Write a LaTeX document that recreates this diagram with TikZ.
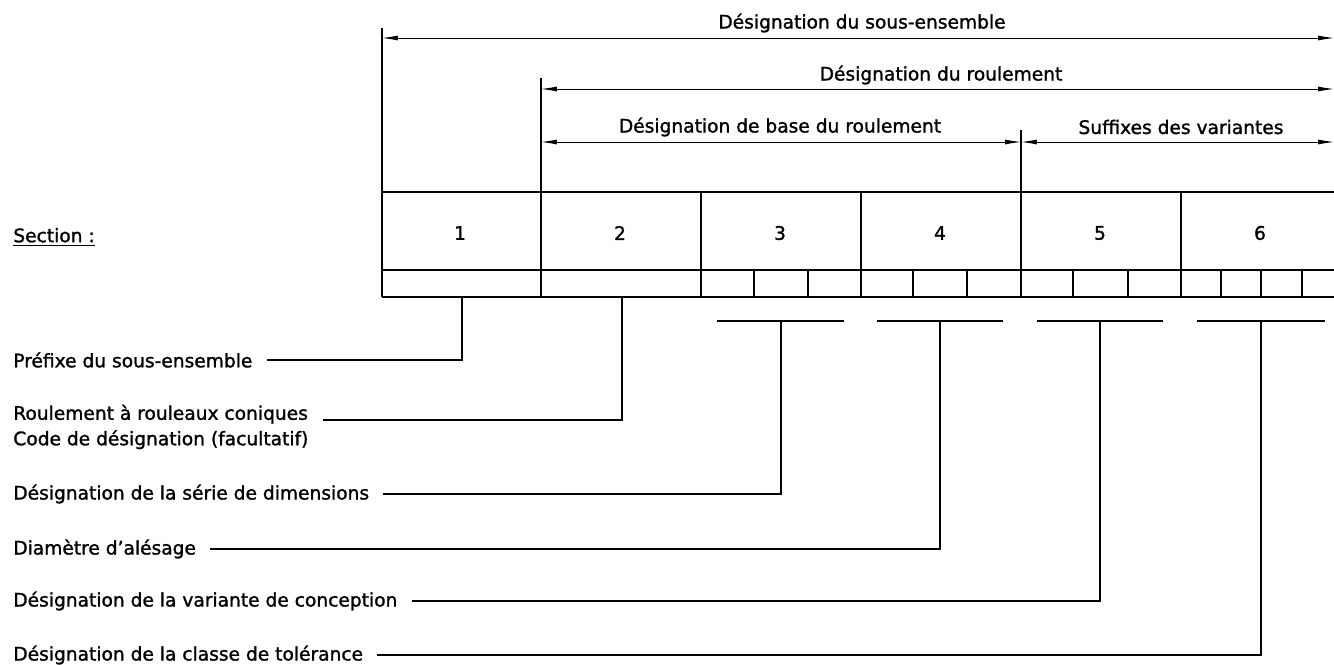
\documentclass[tikz,border=0pt]{standalone}
\usepackage{fontspec}
\setmainfont{DejaVu Sans}[FakeBold=1.4]
\usetikzlibrary{arrows.meta}
\usetikzlibrary{calc}

\begin{document}
\begin{tikzpicture}[x=0.02cm,y=-0.02cm,font=\fontsize{10.6}{14.5}\selectfont,
		grid/.style={line width=1.1pt},
		dimline/.style={line width=0.5pt,{Latex[length=9pt,width=2.8pt]}-{Latex[length=9pt,width=2.8pt]}},
		extline/.style={line width=0.6pt},
		leader/.style={line width=0.8pt},
		lbl/.style={anchor=west,inner sep=0pt,align=left}]
	\useasboundingbox (0,0) rectangle (1334,665);
	% the table
	\draw[grid] (382,192) -- (1334,192) (382,270) -- (1334,270) (382,297) -- (1334,297);
	\foreach \x in {382,541,701,861,1021,1181}
		\draw[grid] (\x,192) -- (\x,297);
	\foreach \x in {754,808,913,967,1073,1128,1221,1261,1302}
		\draw[grid] (\x,270) -- (\x,297);
	\foreach \number/\position in {1/460, 2/620, 3/780, 4/940, 5/1100, 6/1260}
		\node (cell\number) at (\position,233) {\number};
	\node[lbl] (section) at (13,237) {\underline{Section :}};
	% dimension lines
	\coordinate (sousL) at (382,38);   \coordinate (sousR) at (1334,38);
	\coordinate (roulL) at (541,89);   \coordinate (roulR) at (1334,89);
	\coordinate (baseL) at (541,142);  \coordinate (baseR) at (1021,142);
	\coordinate (suffR) at (1334,142);
	\draw[extline] (382,28) -- (382,192);
	\draw[extline] (541,78) -- (541,192);
	\draw[extline] (1021,130) -- (1021,192);
	\draw[dimline] (sousL) -- (sousR);
	\draw[dimline] (roulL) -- (roulR);
	\draw[dimline] (baseL) -- (baseR);
	\draw[dimline] (baseR) -- (suffR);
	\node (sous) at (862,23) {Désignation du sous-ensemble};
	\node (roul) at (941,75) {Désignation du roulement};
	\node (base) at (780,127) {Désignation de base du roulement};
	\node (suff) at (1181,127) {Suffixes des variantes};
	% labels below
	\node[lbl] (prefixe) at (13,360) {Préfixe du sous-ensemble};
	\node[lbl] (conique) at (13,427) {Roulement à rouleaux coniques\\Code de désignation (facultatif)};
	\node[lbl] (serie) at (13,494) {Désignation de la série de dimensions};
	\node[lbl] (alesage) at (13,549) {Diamètre d’alésage};
	\node[lbl] (variante) at (13,601) {Désignation de la variante de conception};
	\node[lbl] (tolerance) at (13,655) {Désignation de la classe de tolérance};
	% leaders
	\foreach \n/\a/\b in {3/717/844, 4/877/1003, 5/1037/1163, 6/1197/1325}
		\draw[leader] (\a,321) -- (\b,321);
	\coordinate (drop1) at (462,297);
	\coordinate (drop2) at (622,297);
	\coordinate (drop3) at (781,321);
	\coordinate (drop4) at (940,321);
	\coordinate (drop5) at (1100,321);
	\coordinate (drop6) at (1261,321);
	\draw[leader] ($(prefixe.east)+(14,0)$) -| (drop1);
	\draw[leader] ($([yshift=4pt]conique.east)+(14,0)$) -| (drop2);
	\draw[leader] ($(serie.east)+(14,0)$) -| (drop3);
	\draw[leader] ($(alesage.east)+(14,0)$) -| (drop4);
	\draw[leader] ($(variante.east)+(14,0)$) -| (drop5);
	\draw[leader] ($(tolerance.east)+(14,0)$) -| (drop6);
\end{tikzpicture}
\end{document}
